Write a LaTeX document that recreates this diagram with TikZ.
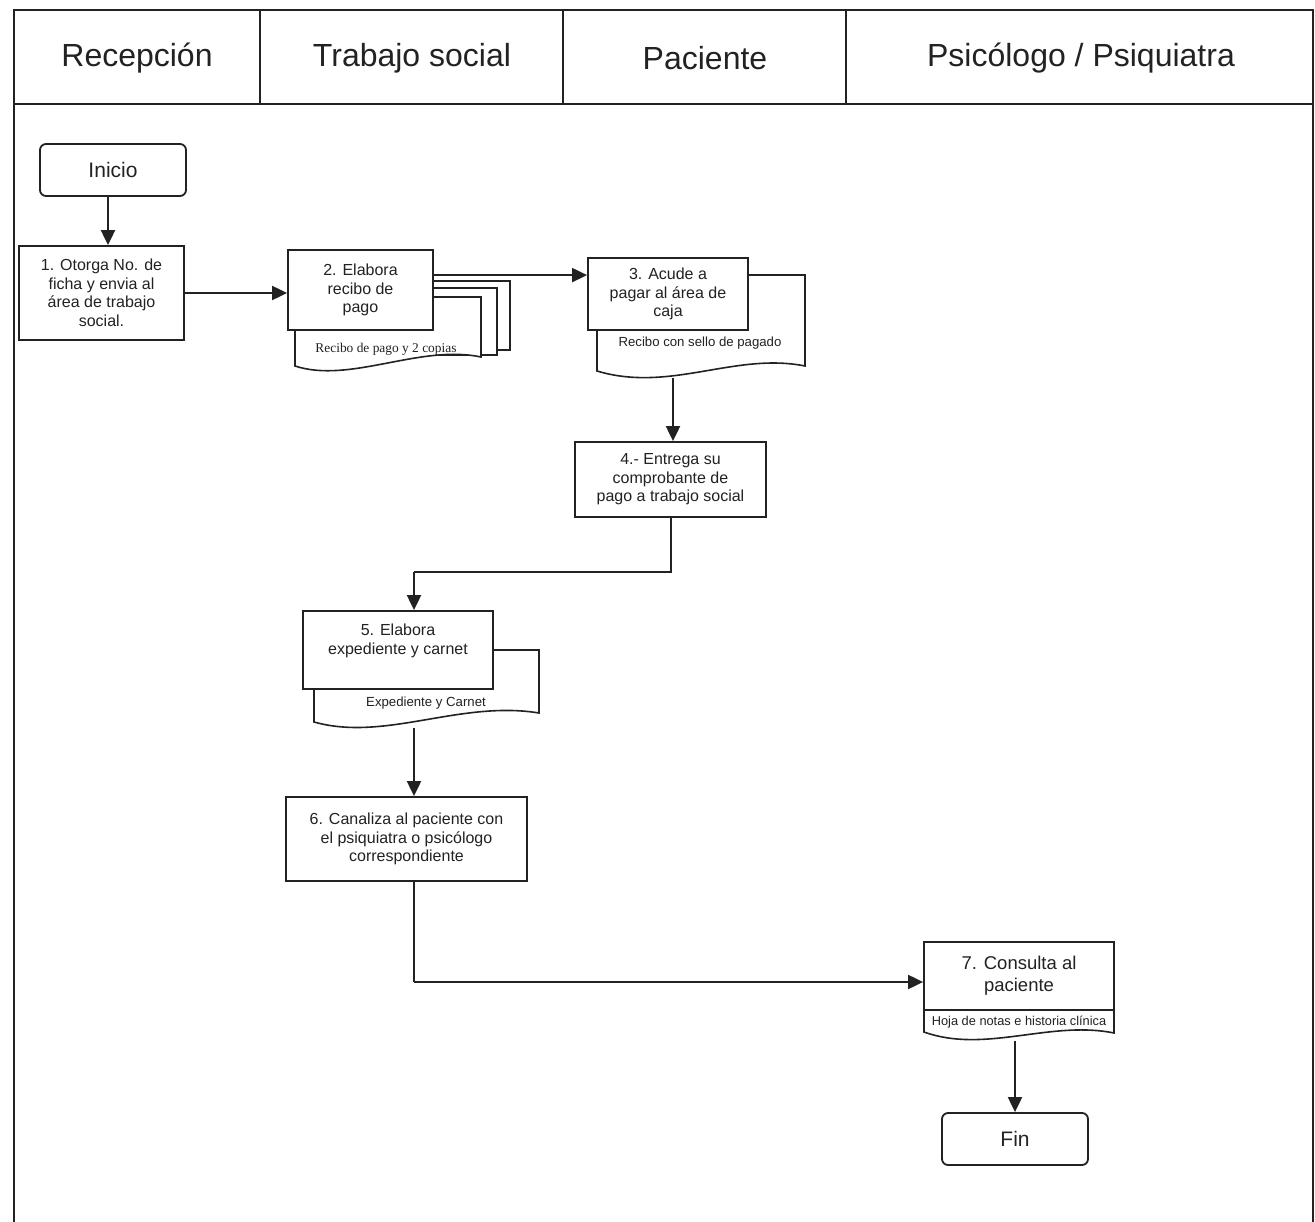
\documentclass[tikz,border=0pt]{standalone}
\usepackage{fontspec}
\setmainfont{Liberation Sans}
\newfontfamily\docserif{Liberation Serif}
\usetikzlibrary{arrows.meta,calc}
\definecolor{ink}{HTML}{222222}
\begin{document}
\begin{tikzpicture}[x=1pt,y=-1pt,
  every node/.style={text=ink},
  proc/.style={draw=ink, line width=1.8pt, fill=white, inner sep=0pt, align=center,
    font=\fontsize{16}{18.5}\selectfont},
  term/.style={proc, rounded corners=6pt, font=\fontsize{21}{24}\selectfont},
  docshape/.style={draw=ink, line width=1.6pt, fill=white},
  lbl/.style={inner sep=0pt, font=\fontsize{13.2}{15}\selectfont},
  head/.style={inner sep=0pt, font=\fontsize{32}{36}\selectfont},
  frame/.style={draw=ink, line width=2pt},
  divider/.style={draw=ink, line width=1.2pt},
  conn/.style={draw=ink, line width=2pt},
  arr/.style={conn, -{Triangle[length=15pt,width=14pt]}}]
\useasboundingbox (0,0) rectangle (1315,1222);

% swimlane frame and header
\draw[frame] (14,1222) -- (14,10) -- (1313,10) -- (1313,1222);
\draw[frame] (14,104) -- (1313,104);
\foreach \xx in {260,563,846} \draw[divider] (\xx,10) -- (\xx,104);
\node[head] (hrec) at (137,58) {Recepción};
\node[head] (hts)  at (412,58) {Trabajo social};
\node[head] (hpac) at (705,58) {Paciente};
\node[head] (hpsi) at (1081,58) {Psicólogo / Psiquiatra};

% start and step 1
\node[term, minimum width=146pt, minimum height=52pt] (ini) at (113,170) {Inicio};
\node[proc, minimum width=165pt, minimum height=94pt] (b1) at (101.5,293)
  {1. Otorga No. de\\ficha y envia al\\área de trabajo\\social.};

% step 2: receipt with two copies
\draw[docshape] (325,281) rectangle (510,350);
\draw[docshape] (310,288) rectangle (497,355);
\draw[docshape] (295,297) -- (295,366) .. controls (350,384) and (420,344) .. (481,357) -- (481,297) -- cycle;
\node[lbl, font=\docserif\fontsize{13.4}{15}\selectfont] (l2) at (386,349) {Recibo de pago y 2 copias};
\node[proc, minimum width=145pt, minimum height=80pt] (b2) at (360.5,290)
  {2. Elabora\\recibo de\\pago};

% step 3: paid receipt
\draw[docshape] (597,275) -- (597,371) .. controls (670,393) and (735,352) .. (805,366) -- (805,275) -- cycle;
\node[lbl] (l3) at (700,343) {Recibo con sello de pagado};
\node[proc, minimum width=160pt, minimum height=72pt] (b3) at (668,294)
  {3. Acude a\\pagar al área de\\caja};
\coordinate (d3) at (673,378);

% step 4
\node[proc, minimum width=191pt, minimum height=75pt] (b4) at (670.5,479.5)
  {4.- Entrega su\\comprobante de\\pago a trabajo social};

% step 5: file and card
\draw[docshape] (314,650) -- (314,722) .. controls (385,742) and (460,700) .. (539,713) -- (539,650) -- cycle;
\node[lbl] (l5) at (426,703) {Expediente y Carnet};
\node[proc, minimum width=190pt, minimum height=78pt] (b5) at (398,650) {};
\node[inner sep=0pt, align=center, font=\fontsize{16}{18.5}\selectfont] (t5) at (398,641)
  {5. Elabora\\expediente y carnet};
\coordinate (d5) at (414,728);

% step 7: consultation with clinical record
\draw[docshape] (924,1005) -- (924,1032) .. controls (985,1054) and (1050,1020) .. (1114,1033) -- (1114,1005);
\node[lbl, font=\fontsize{12.8}{15}\selectfont] (l7) at (1019,1022) {Hoja de notas e historia clínica};
\node[proc, minimum width=190pt, minimum height=68pt, font=\fontsize{18.5}{22}\selectfont] (b7) at (1019,976)
  {7. Consulta al\\paciente};
\coordinate (d7) at (1015,1041);

% step 6
\node[proc, minimum width=241pt, minimum height=84pt] (b6) at (406.5,839)
  {6. Canaliza al paciente con\\el psiquiatra o psicólogo\\correspondiente};

% end
\node[term, minimum width=146pt, minimum height=52pt] (fin) at (1015,1139) {Fin};

% connectors
\path (ini.south) ++(-5,0) coordinate (s0);
\draw[arr] (s0) -- (s0 |- b1.north);
\draw[arr] (b1.east) -- (b1.east -| b2.west);
\path (b2.north east) ++(0,26) coordinate (s2);
\draw[arr] (s2) -- (s2 -| b3.west);
\draw[arr] (d3) -- (d3 |- b4.north);
\coordinate (k4) at (414,572);
\draw[conn] (b4.south) |- (k4);
\draw[arr] (k4) -- (k4 |- b5.north);
\draw[arr] (d5) -- (d5 |- b6.north);
\coordinate (k6) at (414,982);
\draw[conn] (k6 |- b6.south) -- (k6);
\draw[arr] (k6) -- (k6 -| b7.west);
\draw[arr] (d7) -- (d7 |- fin.north);
\end{tikzpicture}
\end{document}
